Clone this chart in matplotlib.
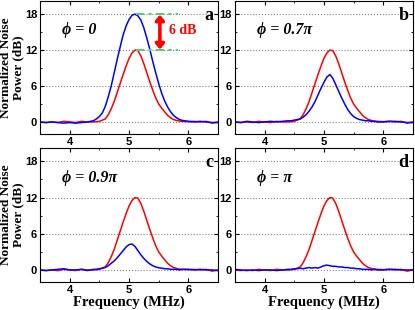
import matplotlib
matplotlib.use("Agg")
import matplotlib.pyplot as plt
from matplotlib.ticker import MultipleLocator

# frequency grid (MHz), finer around the peak
freq = [3.5, 3.6, 3.7, 3.8, 3.9, 4.0, 4.1, 4.2, 4.3, 4.4,
        4.45, 4.5, 4.55, 4.6, 4.65, 4.7, 4.75, 4.8, 4.85, 4.9,
        4.95, 5.0, 5.05, 5.1, 5.15, 5.2, 5.25, 5.3, 5.35, 5.4,
        5.45, 5.5, 5.55, 5.6, 5.65, 5.7, 5.75, 5.8, 5.85, 5.9,
        6.0, 6.1, 6.2, 6.3, 6.4, 6.5]

# red reference curve (same in every panel)
red = [0.0, -0.1, 0.0, -0.1, 0.1, 0.0, -0.1, 0.1, 0.0, 0.0,
       0.05, 0.1, 0.3, 0.5, 1.2, 2.2, 3.4, 4.9, 6.4, 7.9,
       9.3, 10.6, 11.5, 12.0, 11.9, 11.0, 9.7, 8.2, 6.7, 5.3,
       4.0, 3.0, 2.3, 1.7, 1.1, 0.7, 0.4, 0.25, 0.15, 0.1,
       0.05, 0.1, 0.0, 0.1, -0.2, 0.0]

blue_a = [0.0, -0.1, 0.0, -0.1, -0.2, -0.1, -0.2, -0.1, 0.0, 0.2,
          0.5, 0.9, 1.5, 2.6, 4.2, 6.0, 8.2, 10.4, 12.5, 14.5,
          16.0, 17.1, 17.8, 18.0, 17.7, 17.0, 15.7, 14.0, 12.1, 10.1,
          8.2, 6.4, 4.8, 3.5, 2.5, 1.7, 1.1, 0.7, 0.4, 0.25,
          0.1, 0.0, 0.1, 0.0, -0.1, -0.1]

blue_b = [0.0, -0.1, 0.1, 0.0, -0.1, 0.0, 0.1, 0.0, 0.1, 0.2,
          0.2, 0.3, 0.4, 0.5, 0.8, 1.2, 1.8, 2.5, 3.4, 4.5,
          5.6, 6.6, 7.5, 7.9, 7.3, 6.2, 5.1, 4.0, 3.0, 2.1,
          1.4, 0.9, 0.6, 0.4, 0.3, 0.2, 0.2, 0.1, 0.1, 0.0,
          0.0, 0.1, 0.1, 0.0, -0.1, -0.1]

blue_c = [0.0, -0.1, 0.0, 0.1, 0.2, 0.0, 0.0, 0.1, -0.1, 0.1,
          0.1, 0.2, 0.3, 0.4, 0.7, 1.1, 1.5, 2.0, 2.6, 3.2,
          3.8, 4.2, 4.3, 3.9, 3.2, 2.5, 1.9, 1.4, 1.0, 0.7,
          0.5, 0.35, 0.3, 0.2, 0.2, 0.1, 0.1, 0.1, 0.0, 0.1,
          0.1, 0.0, 0.1, 0.0, 0.0, -0.1]

blue_d = [0.1, 0.0, -0.1, 0.0, -0.1, 0.0, 0.0, -0.1, 0.0, 0.1,
          0.1, 0.2, 0.2, 0.3, 0.2, 0.3, 0.4, 0.3, 0.4, 0.3,
          0.5, 0.7, 0.8, 0.7, 0.6, 0.6, 0.5, 0.5, 0.4, 0.4,
          0.3, 0.3, 0.2, 0.2, 0.1, 0.1, 0.1, 0.0, 0.1, 0.0,
          0.0, 0.1, 0.1, 0.0, 0.0, 0.0]

panels = ["a", "b", "c", "d"]
phases = ["\u03d5 = 0", "\u03d5 = 0.7\u03c0", "\u03d5 = 0.9\u03c0", "\u03d5 = \u03c0"]
blues = [blue_a, blue_b, blue_c, blue_d]
yticks = [0, 6, 12, 18]
xticks = [4, 5, 6]

serif = ["Liberation Serif", "DejaVu Serif"]

fig = plt.figure(figsize=(4.15, 3.1), dpi=100)
# [left, bottom, width, height] in figure fractions
boxes = [[0.0964, 0.568, 0.429, 0.429],
         [0.566, 0.568, 0.429, 0.429],
         [0.0964, 0.0903, 0.429, 0.432],
         [0.566, 0.0903, 0.429, 0.432]]

for i in range(4):
    ax = fig.add_axes(boxes[i])
    ax.plot(freq, red, color="red", lw=1.1)
    ax.plot(freq, blues[i], color="blue", lw=1.1)
    ax.set_xlim(3.5, 6.5)
    ax.set_ylim(-2, 20.2)
    ax.set_yticks(yticks)
    ax.set_xticks(xticks)
    ax.xaxis.set_minor_locator(MultipleLocator(0.5))
    ax.yaxis.set_minor_locator(MultipleLocator(3))
    ax.tick_params(which="both", direction="in", top=True, right=True)
    ax.tick_params(which="major", length=3, labelsize=8, pad=2)
    ax.tick_params(which="minor", length=1.5)
    for lab in ax.get_xticklabels() + ax.get_yticklabels():
        lab.set_fontweight("bold")
        lab.set_family(["Liberation Sans", "DejaVu Sans"])
    ax.grid(axis="y", color="gray", linestyle=":", lw=0.8)
    for sp in ax.spines.values():
        sp.set_linewidth(0.8)
    ax.text(0.975, 0.955, panels[i], transform=ax.transAxes, ha="right", va="top",
            fontsize=13, fontweight="bold", family=serif)
    ax.text(3.87, 15.3, phases[i], fontsize=11.5, fontweight="bold", style="italic",
            family=serif, va="center")
    if i == 0:
        ax.plot([5.12, 5.82], [18, 18], color="#55cc77", lw=1.5, ls=(0, (4, 2, 1.5, 2)))
        ax.plot([5.12, 5.82], [12, 12], color="#55cc77", lw=1.5, ls=(0, (4, 2, 1.5, 2)))
        ax.annotate("", xy=(5.52, 17.9), xytext=(5.52, 12.1),
                    arrowprops=dict(arrowstyle="<|-|>,head_length=0.3,head_width=0.25",
                                    color="red", lw=2.6, shrinkA=0, shrinkB=0))
        ax.text(5.67, 15.2, "6 dB", color="red", fontsize=10, fontweight="bold",
                family=serif, va="center")
    if i in (0, 2):
        ax.set_ylabel("Normalized Noise\nPower (dB)", fontsize=9.5, fontweight="bold",
                      family=serif, linespacing=0.95)
        ax.yaxis.set_label_coords(-0.09, 0.5)
    if i in (2, 3):
        ax.set_xlabel("Frequency (MHz)", fontsize=10.5, fontweight="bold", family=serif)
        ax.xaxis.set_label_coords(0.5, -0.1)

fig.savefig("out.png", dpi=100)
